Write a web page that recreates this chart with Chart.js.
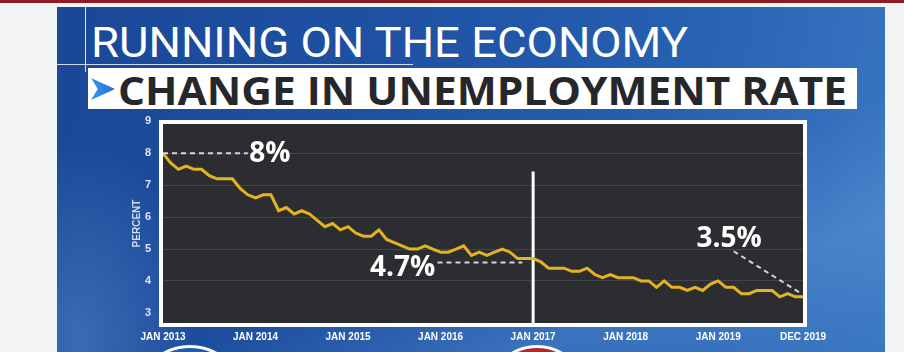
<!DOCTYPE html>
<html>
<head>
<meta charset="utf-8">
<script src="https://cdn.jsdelivr.net/npm/chart.js@4.4.1/dist/chart.umd.min.js"></script>
<style>
    html, body { margin: 0; padding: 0; width: 904px; height: 352px; overflow: hidden; background: #f3f4f6; }
    body { position: relative; font-family: 'Liberation Sans', Arial, sans-serif; }
    #topbar { position: absolute; left: 0; top: 0; width: 904px; height: 3px; background: #8e1c20; }
    #panel {
        position: absolute; left: 57px; top: 7px; width: 828px; height: 345px;
        background:
            radial-gradient(ellipse 120px 200px at 20px 330px, rgba(120,170,230,0.35), rgba(120,170,230,0) 100%),
            linear-gradient(160deg, rgba(255,255,255,0) 60%, rgba(130,180,235,0.25) 80%, rgba(255,255,255,0) 100%),
            linear-gradient(100deg, #1a4796 0%, #1f52a4 40%, #2660b1 70%, #3a77c2 100%);
    }
    .vline { position: absolute; left: 85px; top: 7px; width: 1px; height: 65px; background: rgba(255,255,255,0.85); }
    .hline { position: absolute; left: 57px; top: 64px; width: 356px; height: 1px; background: rgba(255,255,255,0.8); }
    #title {
        position: absolute; left: 91px; top: 21px; font-family: Roboto, 'Liberation Sans', sans-serif;
        font-weight: 400; font-size: 43px; line-height: 43px; color: #fff; white-space: nowrap;
        display: inline-block; transform-origin: 0 0;
    }
    #subbox { position: absolute; left: 88px; top: 68px; width: 769px; height: 41px; background: #fff; }
    #arrow {
        position: absolute; left: 91px; top: 78px; width: 24px; height: 22px;
        background: linear-gradient(90deg, #3d95ea, #1c6fd6);
        clip-path: polygon(0 0, 100% 50%, 0 100%, 28% 50%);
    }
    #subtitle {
        position: absolute; left: 118px; top: 70px; font-family: 'Open Sans', 'Liberation Sans', sans-serif;
        font-weight: 700; font-size: 39px; line-height: 39px; color: #26272b; white-space: nowrap;
        display: inline-block; transform-origin: 0 0;
    }
    .circle { position: absolute; border-radius: 50%; border: 3px solid #fff; box-sizing: border-box; }
    #c1 { left: 135px; top: 345px; width: 110px; height: 110px; background: #1e5db6; }
    #c2 { left: 487px; top: 345px; width: 100px; height: 100px; background: #b3262c; }
    #chart { position: absolute; left: 0; top: 0; }
</style>
</head>
<body>
<div id="topbar"></div>
<div id="panel"></div>
<div class="vline"></div>
<div class="hline"></div>
<div id="title">RUNNING ON THE ECONOMY</div>
<div id="subbox"></div>
<div id="arrow"></div>
<div id="subtitle">CHANGE IN UNEMPLOYMENT RATE</div>
<div class="circle" id="c1"></div>
<div class="circle" id="c2"></div>
<canvas id="chart" width="904" height="352"></canvas>

<script>
// unemployment rate, percent, by month
const rate2013 = [8.0, 7.7, 7.5, 7.6, 7.5, 7.5, 7.3, 7.2, 7.2, 7.2, 6.9, 6.7];
const rate2014 = [6.6, 6.7, 6.7, 6.2, 6.3, 6.1, 6.2, 6.1, 5.9, 5.7, 5.8, 5.6];
const rate2015 = [5.7, 5.5, 5.4, 5.4, 5.6, 5.3, 5.2, 5.1, 5.0, 5.0, 5.1, 5.0];
const rate2016 = [4.9, 4.9, 5.0, 5.1, 4.8, 4.9, 4.8, 4.9, 5.0, 4.9, 4.7, 4.7];
const rate2017 = [4.7, 4.6, 4.4, 4.4, 4.4, 4.3, 4.3, 4.4, 4.2, 4.1, 4.2, 4.1];
const rate2018 = [4.1, 4.1, 4.0, 4.0, 3.8, 4.0, 3.8, 3.8, 3.7, 3.8, 3.7, 3.9];
const rate2019 = [4.0, 3.8, 3.8, 3.6, 3.6, 3.7, 3.7, 3.7, 3.5, 3.6, 3.5, 3.5];

const years = [2013, 2014, 2015, 2016, 2017, 2018, 2019];
const monthNames = ['JAN', 'FEB', 'MAR', 'APR', 'MAY', 'JUN', 'JUL', 'AUG', 'SEP', 'OCT', 'NOV', 'DEC'];
const tickLabels = ['JAN 2013', 'JAN 2014', 'JAN 2015', 'JAN 2016', 'JAN 2017', 'JAN 2018', 'JAN 2019', 'DEC 2019'];
const yTicks = [3, 4, 5, 6, 7, 8, 9];

const months = years.flatMap(y => monthNames.map(m => `${m} ${y}`));
const rates = [].concat(rate2013, rate2014, rate2015, rate2016, rate2017, rate2018, rate2019);

function fitWidth(id, w) {
    const el = document.getElementById(id);
    const r = el.getBoundingClientRect().width;
    el.style.transform = `scaleX(${w / r})`;
}
fitWidth('title', 597);
fitWidth('subtitle', 729);

const ANNO_FONT = "bold 28px 'Open Sans', 'Liberation Sans', sans-serif";

const plotDecor = {
    id: 'plotDecor',
    beforeDraw(chart) {
        const { ctx, chartArea: a } = chart;
        ctx.save();
        ctx.fillStyle = '#2c2d31';
        ctx.fillRect(a.left, a.top, a.right - a.left, a.bottom - a.top);
        ctx.restore();
    },
    beforeDatasetsDraw(chart) {
        const { ctx, chartArea: a, scales: { x, y } } = chart;
        const px = x.getPixelForValue(months.indexOf('JAN 2017'));
        ctx.save();
        ctx.strokeStyle = '#ffffff';
        ctx.lineWidth = 3;
        ctx.beginPath();
        ctx.moveTo(px, y.getPixelForValue(7.43));
        ctx.lineTo(px, a.bottom);
        ctx.stroke();
        ctx.restore();
    },
    afterDatasetsDraw(chart) {
        const { ctx, chartArea: a, scales: { x, y } } = chart;
        ctx.save();
        // frame
        ctx.strokeStyle = '#ffffff';
        ctx.lineWidth = 4;
        ctx.strokeRect(a.left - 2, a.top - 2, a.right - a.left + 4, a.bottom - a.top + 4);

        // dashed leaders
        ctx.strokeStyle = '#d6d6d8';
        ctx.lineWidth = 2;
        ctx.setLineDash([5, 4]);
        const seg = (i1, v1, i2, v2) => {
            ctx.beginPath();
            ctx.moveTo(x.getPixelForValue(i1), y.getPixelForValue(v1));
            ctx.lineTo(x.getPixelForValue(i2), y.getPixelForValue(v2));
            ctx.stroke();
        };
        seg(0, rates[0], 11, rates[0]);
        seg(35.6, 4.58, 46.6, 4.58);
        seg(74, 4.93, 82.8, 3.6);
        ctx.setLineDash([]);

        // labels
        ctx.fillStyle = '#ffffff';
        ctx.font = ANNO_FONT;
        ctx.textBaseline = 'middle';
        ctx.textAlign = 'left';
        ctx.fillText('8%', x.getPixelForValue(11.2), y.getPixelForValue(rates[0]) + 1);
        ctx.textAlign = 'right';
        ctx.fillText('4.7%', x.getPixelForValue(35.3), y.getPixelForValue(4.4));
        ctx.textAlign = 'left';
        ctx.fillText('3.5%', x.getPixelForValue(69.2), y.getPixelForValue(5.3));
        ctx.restore();
    }
};

new Chart(document.getElementById('chart').getContext('2d'), {
    type: 'line',
    data: {
        labels: months,
        datasets: [{
            data: rates,
            borderColor: '#e3b321',
            borderWidth: 3,
            pointRadius: 0,
            tension: 0,
            fill: false
        }]
    },
    options: {
        responsive: false,
        animation: false,
        layout: { padding: { left: 123, top: 124, right: 101, bottom: 0 } },
        plugins: { legend: { display: false }, tooltip: { enabled: false } },
        scales: {
            x: {
                type: 'category',
                offset: false,
                grid: { display: false, drawTicks: false },
                border: { display: false },
                afterFit: (s) => { s.height = 29; },
                ticks: {
                    autoSkip: false,
                    maxRotation: 0,
                    padding: 8,
                    color: '#ffffff',
                    font: { family: 'Liberation Sans', size: 10, weight: 'bold' },
                    callback: function (v) {
                        const l = this.getLabelForValue(v);
                        return tickLabels.includes(l) ? l : '';
                    }
                }
            },
            y: {
                min: 2.68,
                max: 8.92,
                afterBuildTicks: (s) => { s.ticks = yTicks.map(v => ({ value: v })); },
                afterFit: (s) => { s.width = 40; },
                grid: {
                    drawTicks: false,
                    color: (c) => (c.tick && c.tick.value > 3 && c.tick.value < 9) ? '#45464c' : 'rgba(0,0,0,0)'
                },
                border: { display: false },
                title: {
                    display: true,
                    text: 'PERCENT',
                    color: '#d3dff0',
                    font: { family: 'Liberation Sans', size: 10, weight: 'bold' },
                    padding: { top: 8, bottom: 0 }
                },
                ticks: {
                    padding: 12,
                    color: '#dce6f4',
                    font: { family: 'Liberation Sans', size: 11, weight: 'bold' }
                }
            }
        }
    },
    plugins: [plotDecor]
});
</script>
</body>
</html>
